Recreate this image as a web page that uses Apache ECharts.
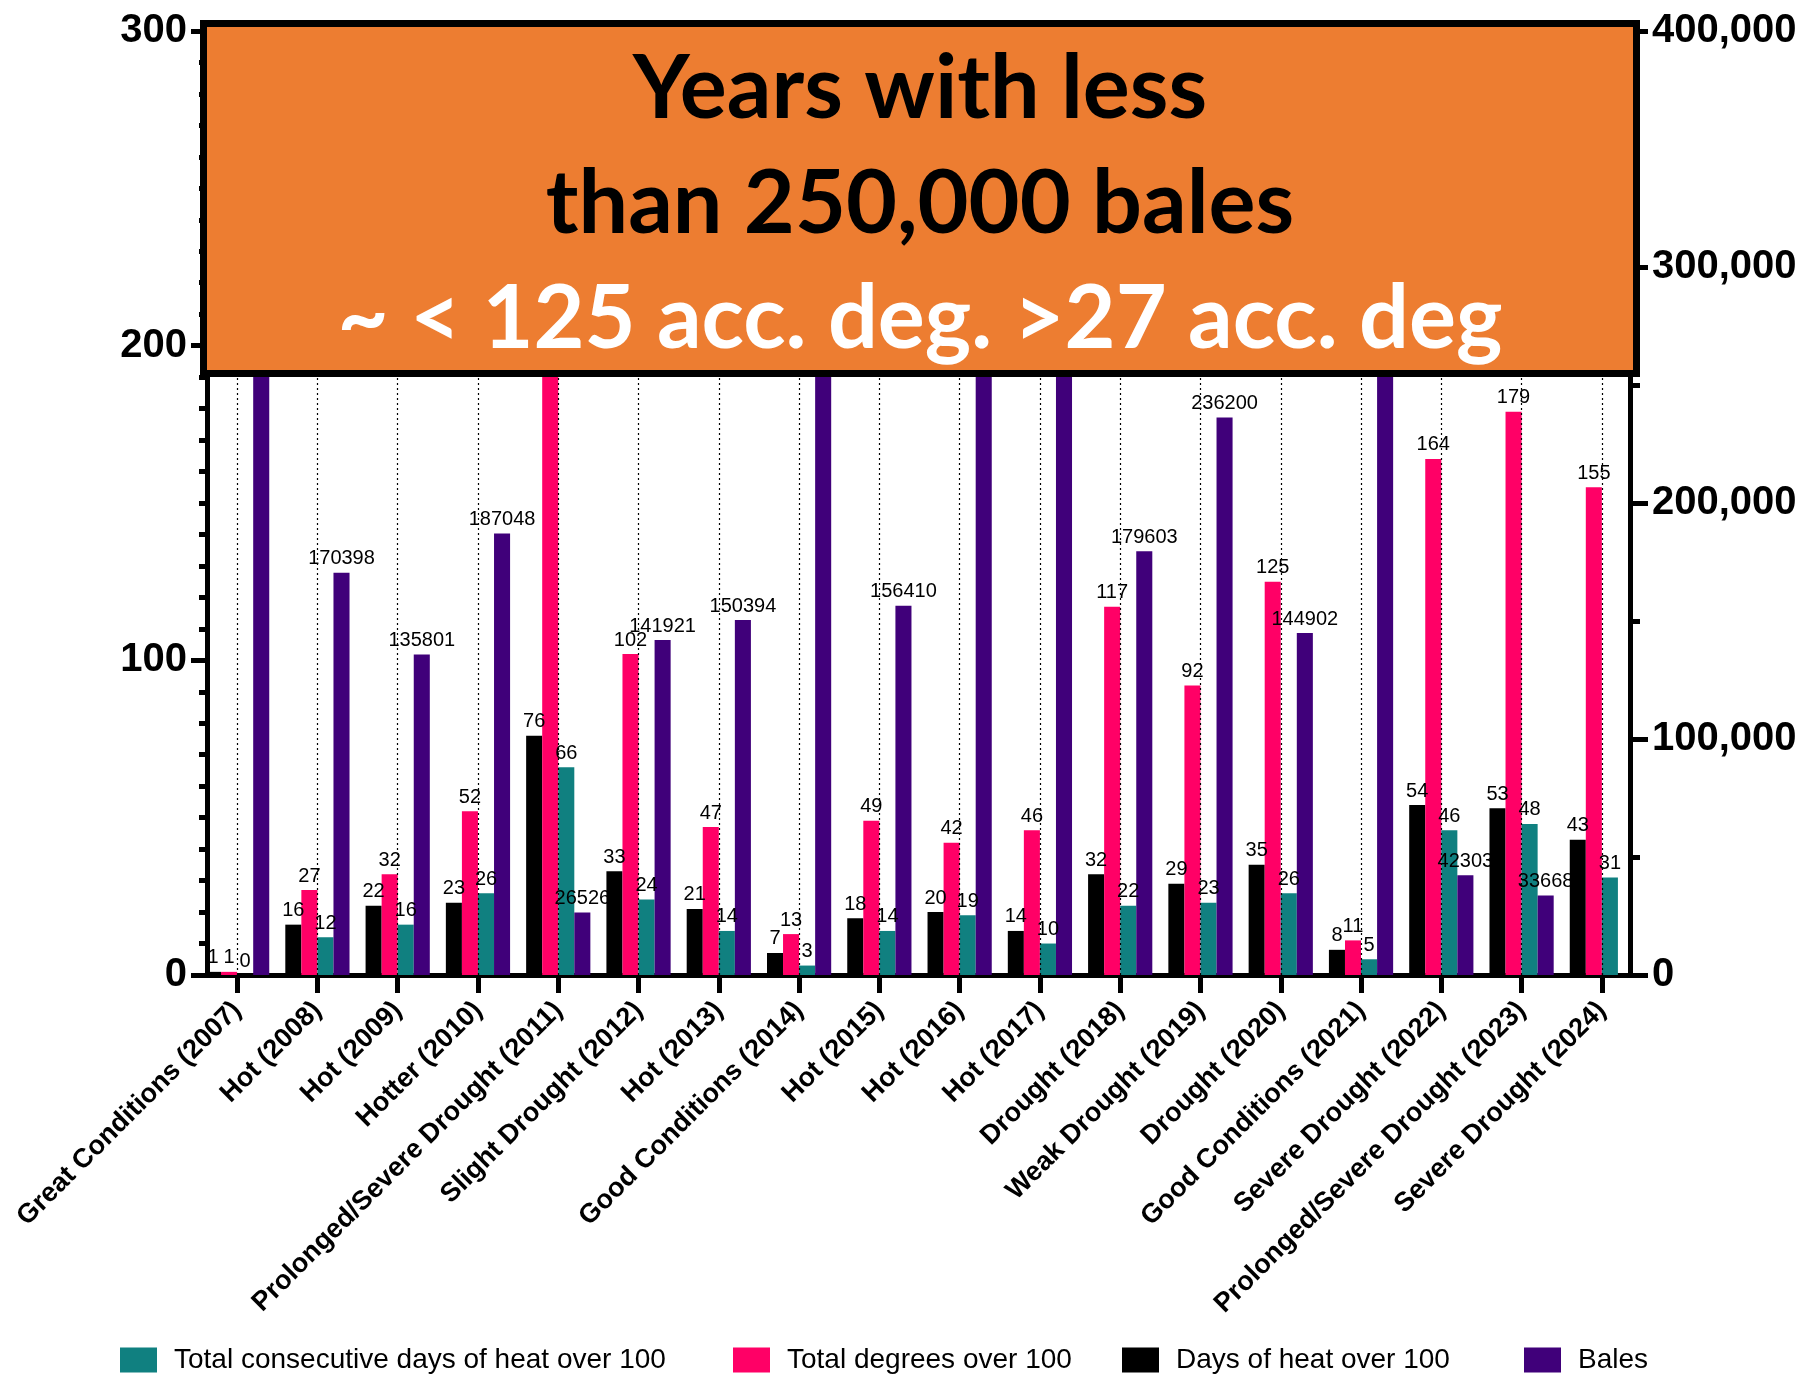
<!DOCTYPE html>
<html>
<head>
<meta charset="utf-8">
<script src="https://cdn.jsdelivr.net/npm/echarts@6/dist/echarts.min.js"></script>
<style>
  html, body { margin: 0; padding: 0; background: #ffffff; }
  #chart { width: 1814px; height: 1375px; }
</style>
</head>
<body>
<div id="chart"></div>
<script>
// Growing seasons, 2007-2024
const categories = [
  'Great Conditions (2007)', 'Hot (2008)', 'Hot (2009)', 'Hotter (2010)',
  'Prolonged/Severe Drought (2011)', 'Slight Drought (2012)', 'Hot (2013)',
  'Good Conditions (2014)', 'Hot (2015)', 'Hot (2016)', 'Hot (2017)',
  'Drought (2018)', 'Weak Drought (2019)', 'Drought (2020)',
  'Good Conditions (2021)', 'Severe Drought (2022)',
  'Prolonged/Severe Drought (2023)', 'Severe Drought (2024)'
];
const daysOver100      = [1, 16, 22, 23, 76, 33, 21, 7, 18, 20, 14, 32, 29, 35, 8, 54, 53, 43];
const degreesOver100   = [1, 27, 32, 52, 262, 102, 47, 13, 49, 42, 46, 117, 92, 125, 11, 164, 179, 155];
const consecutiveDays  = [0, 12, 16, 26, 66, 24, 14, 3, 14, 19, 10, 22, 23, 26, 5, 46, 48, 31];
const bales            = [342000, 170398, 135801, 187048, 26526, 141921, 150394, 296000, 156410,
                          318000, 274000, 179603, 236200, 144902, 327000, 42303, 33668, null];

// Axis ranges
const leftMax = 300, leftStep = 100;
const rightMax = 400000, rightStep = 100000;

// Annotation text
const noteLines = ['Years with less', 'than 250,000 bales', '~ < 125 acc. deg. >27 acc. deg'];

const COLORS = {
  days: '#000000',
  degrees: '#FF0066',
  consecutive: '#108080',
  bales: '#40007A',
  note: '#ED7D31'
};

const chart = echarts.init(document.getElementById('chart'), null, { renderer: 'canvas' });

const labelStyle = {
  show: true,
  position: 'top',
  distance: 4,
  color: '#000',
  fontSize: 20,
  fontFamily: 'Liberation Sans, Arial, sans-serif'
};

function legendAt(name, left) {
  return {
    data: [name],
    left: left,
    top: 1341,
    itemWidth: 37,
    itemHeight: 25,
    icon: 'rect',
    selectedMode: false,
    textStyle: {
      fontSize: 28,
      color: '#000',
      fontFamily: 'Liberation Sans, Arial, sans-serif',
      padding: [0, 0, 0, 12]
    }
  };
}

function noteText(text, y, fill) {
  return {
    type: 'text',
    z: 101,
    style: {
      text: text, x: 920, y: y,
      align: 'center', verticalAlign: 'middle',
      fill: fill, font: 'bold 88px Lato, "Open Sans", sans-serif'
    }
  };
}

const option = {
  backgroundColor: '#ffffff',
  animation: false,
  grid: { left: 197, right: 172, top: 31, bottom: 400, containLabel: false },
  legend: [
    legendAt('Total consecutive days of heat over 100', 115),
    legendAt('Total degrees over 100', 728),
    legendAt('Days of heat over 100', 1117),
    legendAt('Bales', 1519)
  ],
  xAxis: {
    type: 'category',
    data: categories,
    axisLine: { show: true, lineStyle: { color: '#000', width: 5 } },
    axisTick: { show: true, alignWithLabel: true, length: 18, lineStyle: { color: '#000', width: 5 } },
    axisLabel: {
      interval: 0,
      rotate: 45,
      margin: 31,
      color: '#000',
      fontSize: 27,
      fontWeight: 'bold',
      fontFamily: 'Liberation Sans, Arial, sans-serif'
    },
    splitLine: { show: false }
  },
  yAxis: [
    {
      type: 'value',
      position: 'left',
      offset: -10,
      min: 0,
      max: leftMax,
      interval: leftStep,
      axisLine: { show: true, lineStyle: { color: '#000', width: 5 } },
      axisTick: { show: true, length: 16, lineStyle: { color: '#000', width: 5 } },
      minorTick: { show: true, splitNumber: 10, length: 8, lineStyle: { color: '#000', width: 5 } },
      axisLabel: {
        margin: 20,
        color: '#000',
        fontSize: 40,
        fontWeight: 'bold',
        fontFamily: 'Liberation Sans, Arial, sans-serif'
      },
      splitLine: { show: false }
    },
    {
      type: 'value',
      position: 'right',
      offset: -12,
      min: 0,
      max: rightMax,
      interval: rightStep,
      axisLine: { show: true, lineStyle: { color: '#000', width: 5 } },
      axisTick: { show: true, length: 18, lineStyle: { color: '#000', width: 5 } },
      minorTick: { show: true, splitNumber: 2, length: 10, lineStyle: { color: '#000', width: 5 } },
      axisLabel: {
        margin: 22,
        color: '#000',
        fontSize: 40,
        fontWeight: 'bold',
        fontFamily: 'Liberation Sans, Arial, sans-serif',
        formatter: v => v.toLocaleString('en-US')
      },
      splitLine: { show: false }
    }
  ],
  series: [
    {
      name: 'Days of heat over 100',
      type: 'bar',
      yAxisIndex: 0,
      data: daysOver100,
      barGap: '0%',
      barCategoryGap: '20%',
      itemStyle: { color: COLORS.days },
      label: labelStyle
    },
    {
      name: 'Total degrees over 100',
      type: 'bar',
      yAxisIndex: 0,
      data: degreesOver100,
      itemStyle: { color: COLORS.degrees },
      label: labelStyle
    },
    {
      name: 'Total consecutive days of heat over 100',
      type: 'bar',
      yAxisIndex: 0,
      data: consecutiveDays,
      itemStyle: { color: COLORS.consecutive },
      label: labelStyle
    },
    {
      name: 'Bales',
      type: 'bar',
      yAxisIndex: 1,
      data: bales,
      itemStyle: { color: COLORS.bales },
      label: labelStyle
    },
    {
      // dotted guide through the centre of every category
      name: 'guides',
      type: 'line',
      yAxisIndex: 0,
      data: categories.map(() => null),
      showSymbol: false,
      lineStyle: { opacity: 0 },
      markLine: {
        silent: true,
        symbol: ['none', 'none'],
        label: { show: false },
        lineStyle: { color: '#000', width: 1.2, type: [2, 3] },
        data: categories.map(c => ({ xAxis: c }))
      }
    }
  ],
  graphic: [
    {
      type: 'rect',
      z: 100,
      shape: { x: 203.5, y: 23.5, width: 1433, height: 350 },
      style: { fill: COLORS.note, stroke: '#000', lineWidth: 7 }
    },
    noteText(noteLines[0], 90, '#000'),
    noteText(noteLines[1], 205, '#000'),
    noteText(noteLines[2], 320, '#ffffff')
  ]
};

chart.setOption(option);
</script>
</body>
</html>
